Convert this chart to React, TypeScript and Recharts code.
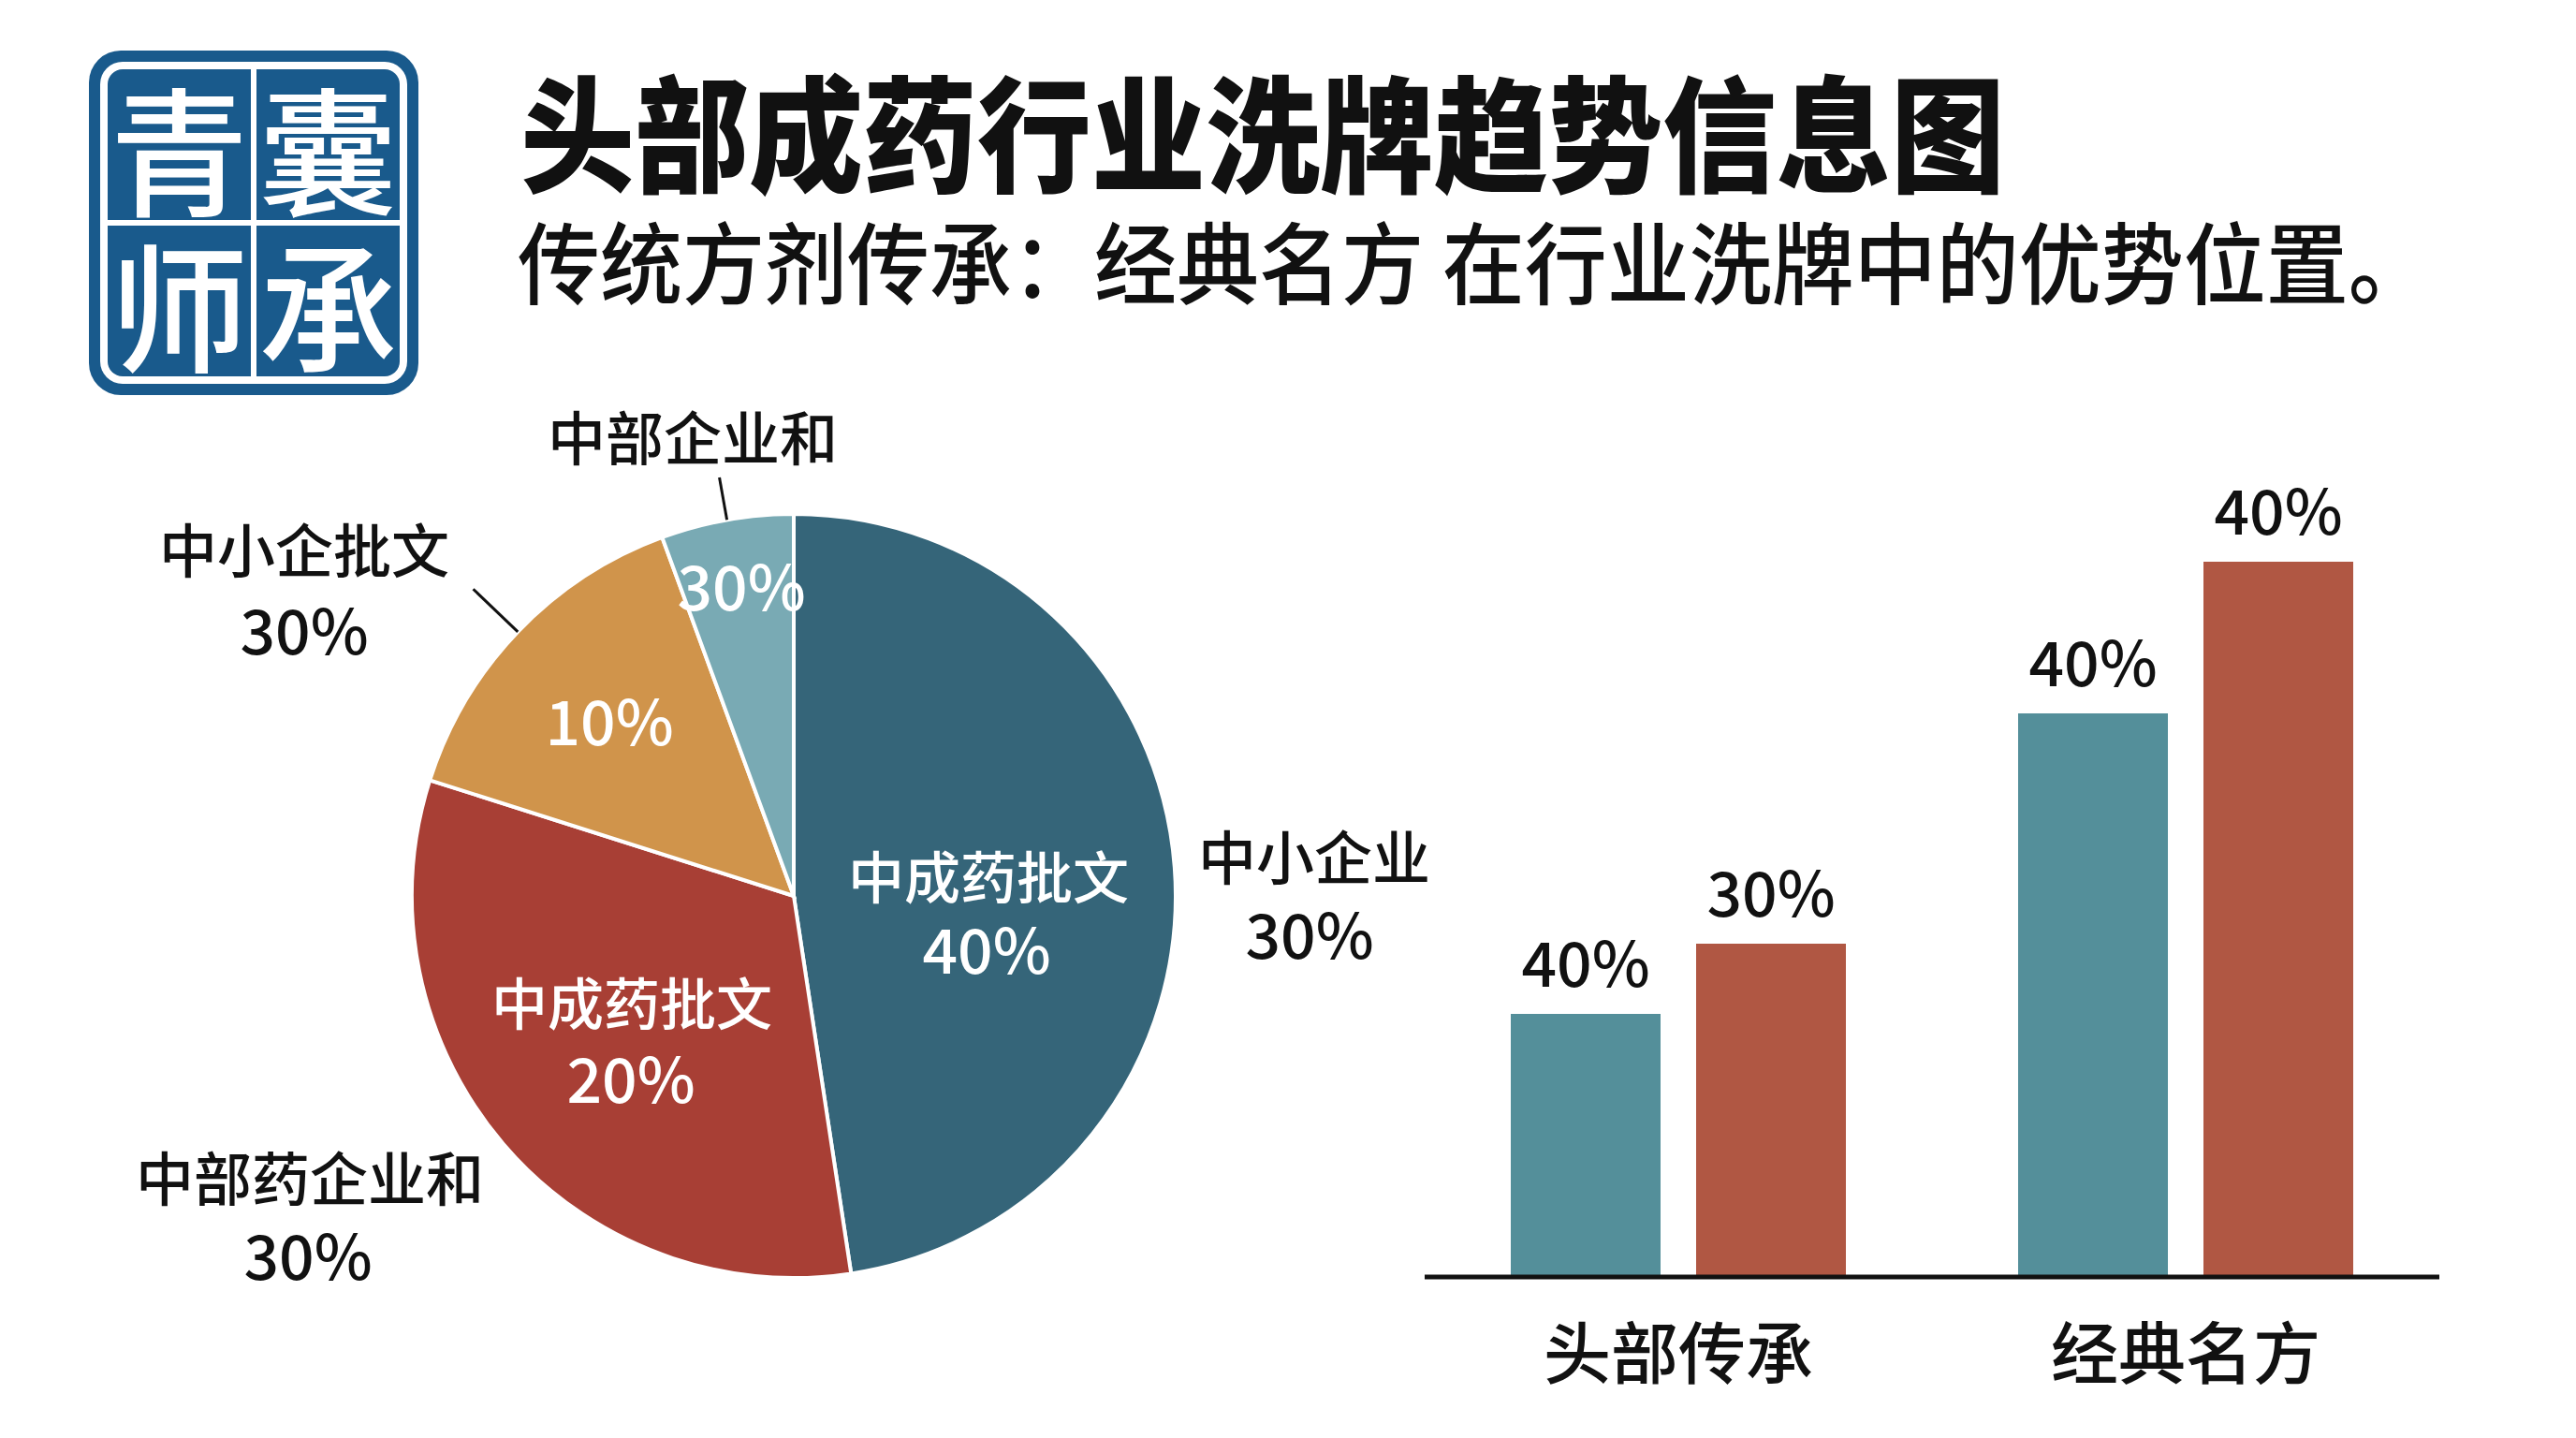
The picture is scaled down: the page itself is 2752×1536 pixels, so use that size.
import React from 'react';
import { PieChart, Pie, Cell, BarChart, Bar, XAxis, YAxis, LabelList } from 'recharts';

const FONT = "'Noto Sans CJK SC', 'Noto Sans', sans-serif";

// ---------- texts ----------
const titleText = '头部成药行业洗牌趋势信息图';
const subtitleText = '传统方剂传承：经典名方 在行业洗牌中的优势位置。';
const logoChars = ['青', '囊', '师', '承'];

// ---------- pie data ----------
const pieShares = [47.6, 32.3, 14.5, 5.6];
const pieColors = ['#356579', '#a83f35', '#d0944b', '#79aab4'];
const pieInnerLabels = [['中成药批文', '40%'], ['中成药批文', '20%'], ['10%'], ['30%']];
const pieOuterLabels = [['中小企业', '30%'], ['中部药企业和', '30%'], ['中小企批文', '30%'], ['中部企业和']];

// ---------- bar data ----------
const barCategories = ['头部传承', '经典名方'];
const tealValues = [28.1, 60.2];
const redValues = [35.6, 76.4];
const tealLabels = ['40%', '40%'];
const redLabels = ['30%', '40%'];

// ---------- layout (label placement relative to pie centre) ----------
const innerPos = [
  [[208, -24], [206, 54]],
  [[-173, 111], [-174, 192]],
  [[-197, -190]],
  [[-56, -334]],
];
const outerPos = [
  [[556, -44], [551, 38]],
  [[-517, 299], [-519, 381]],
  [[-523, -372], [-523, -287]],
  [[-108, -492]],
];
const leaderLen = [0, 0, 66, 46];

const BLUE = '#195a8c';
const TEAL = '#548f9a';
const RED = '#b05743';

const pieData = pieShares.map((v, i) => ({ name: pieOuterLabels[i].join(' '), value: v }));
const barData = barCategories.map((c, i) => ({ name: c, teal: tealValues[i], red: redValues[i] }));

const renderPieLabel = (props: any) => {
  const { cx, cy, midAngle, outerRadius, index } = props;
  const RAD = Math.PI / 180;
  const els: any[] = [];
  pieInnerLabels[index].forEach((t, j) => {
    const [dx, dy] = innerPos[index][j];
    els.push(
      <text key={'i' + j} x={cx + dx} y={cy + dy} fill="#ffffff" textAnchor="middle" dominantBaseline="central"
        fontSize={t.includes('%') ? 66 : 60} fontFamily={FONT} fontWeight={500}>{t}</text>
    );
  });
  pieOuterLabels[index].forEach((t, j) => {
    const [dx, dy] = outerPos[index][j];
    els.push(
      <text key={'o' + j} x={cx + dx} y={cy + dy} fill="#111111" textAnchor="middle" dominantBaseline="central"
        fontSize={t.includes('%') ? 66 : 62} fontFamily={FONT} fontWeight={500}>{t}</text>
    );
  });
  const len = leaderLen[index];
  if (len > 0) {
    const c = Math.cos(-midAngle * RAD);
    const s = Math.sin(-midAngle * RAD);
    els.push(
      <line key="l" x1={cx + outerRadius * c} y1={cy + outerRadius * s}
        x2={cx + (outerRadius + len) * c} y2={cy + (outerRadius + len) * s}
        stroke="#111111" strokeWidth={3} />
    );
  }
  return <g>{els}</g>;
};

const makeBarLabel = (labels: string[]) => (props: any) => {
  const { x, y, width, index } = props;
  return (
    <text x={Number(x) + Number(width) / 2} y={Number(y) - 29} textAnchor="middle" fill="#111111"
      fontSize={66} fontFamily={FONT} fontWeight={500}>{labels[index]}</text>
  );
};

const XTick = (props: any) => {
  const { x, y, payload } = props;
  return (
    <text x={x} y={y + 76} textAnchor="middle" dominantBaseline="central" fill="#111111"
      fontSize={72} fontFamily={FONT} fontWeight={500}>{payload.value}</text>
  );
};

const Logo = () => {
  const quads = [
    { left: 20, top: 20 },
    { left: 179, top: 20 },
    { left: 20, top: 187 },
    { left: 179, top: 187 },
  ];
  const radii = ['16px 0 0 0', '0 16px 0 0', '0 0 0 16px', '0 0 16px 0'];
  return (
    <div style={{ position: 'absolute', left: 95, top: 54, width: 352, height: 368, background: BLUE, borderRadius: 34 }}>
      <div style={{ position: 'absolute', left: 12, top: 12, right: 12, bottom: 12, background: '#fff', borderRadius: 24 }} />
      {quads.map((q, i) => (
        <div key={i} style={{
          position: 'absolute', left: q.left, top: q.top, width: 153, height: 161, background: BLUE,
          borderRadius: radii[i], display: 'flex', alignItems: 'center', justifyContent: 'center',
          color: '#fff', fontFamily: FONT, fontSize: 148, fontWeight: 500, lineHeight: 1,
        }}>{logoChars[i]}</div>
      ))}
    </div>
  );
};

export default function App() {
  return (
    <div style={{ position: 'absolute', left: 0, top: 0, width: 2752, height: 1536, background: '#ffffff', overflow: 'hidden', fontFamily: FONT }}>
      <div style={{ position: 'absolute', left: 0, top: 0 }}>
        <PieChart width={1620} height={1536}>
          <Pie data={pieData} dataKey="value" nameKey="name" cx={843} cy={952} outerRadius={408}
            startAngle={90} endAngle={-270} stroke="#ffffff" strokeWidth={4}
            label={renderPieLabel} labelLine={false} isAnimationActive={false}>
            {pieData.map((d, i) => <Cell key={i} fill={pieColors[i]} />)}
          </Pie>
        </PieChart>
      </div>
      <div style={{ position: 'absolute', left: 1400, top: 0 }}>
        <BarChart width={1352} height={1536} data={barData} margin={{ top: 364, right: 146, left: 122, bottom: 0 }}
          barSize={160} barGap={38}>
          <XAxis dataKey="name" height={172} tickLine={false} tickSize={0} tickMargin={0}
            axisLine={{ stroke: '#111111', strokeWidth: 5 }} tick={<XTick />} interval={0} />
          <YAxis hide domain={[0, 100]} />
          <Bar dataKey="teal" fill={TEAL} isAnimationActive={false}>
            <LabelList dataKey="teal" content={makeBarLabel(tealLabels)} />
          </Bar>
          <Bar dataKey="red" fill={RED} isAnimationActive={false}>
            <LabelList dataKey="red" content={makeBarLabel(redLabels)} />
          </Bar>
        </BarChart>
      </div>
      <Logo />
      <div style={{ position: 'absolute', left: 556, top: 70, fontSize: 122, fontWeight: 900, lineHeight: 1, color: '#111', whiteSpace: 'nowrap', transform: 'scaleY(1.1)', transformOrigin: 'left top' }}>{titleText}</div>
      <div style={{ position: 'absolute', left: 553, top: 229, fontSize: 88, fontWeight: 500, lineHeight: 1, color: '#111', whiteSpace: 'nowrap', transform: 'scaleY(1.08)', transformOrigin: 'left top' }}>{subtitleText}</div>
    </div>
  );
}
